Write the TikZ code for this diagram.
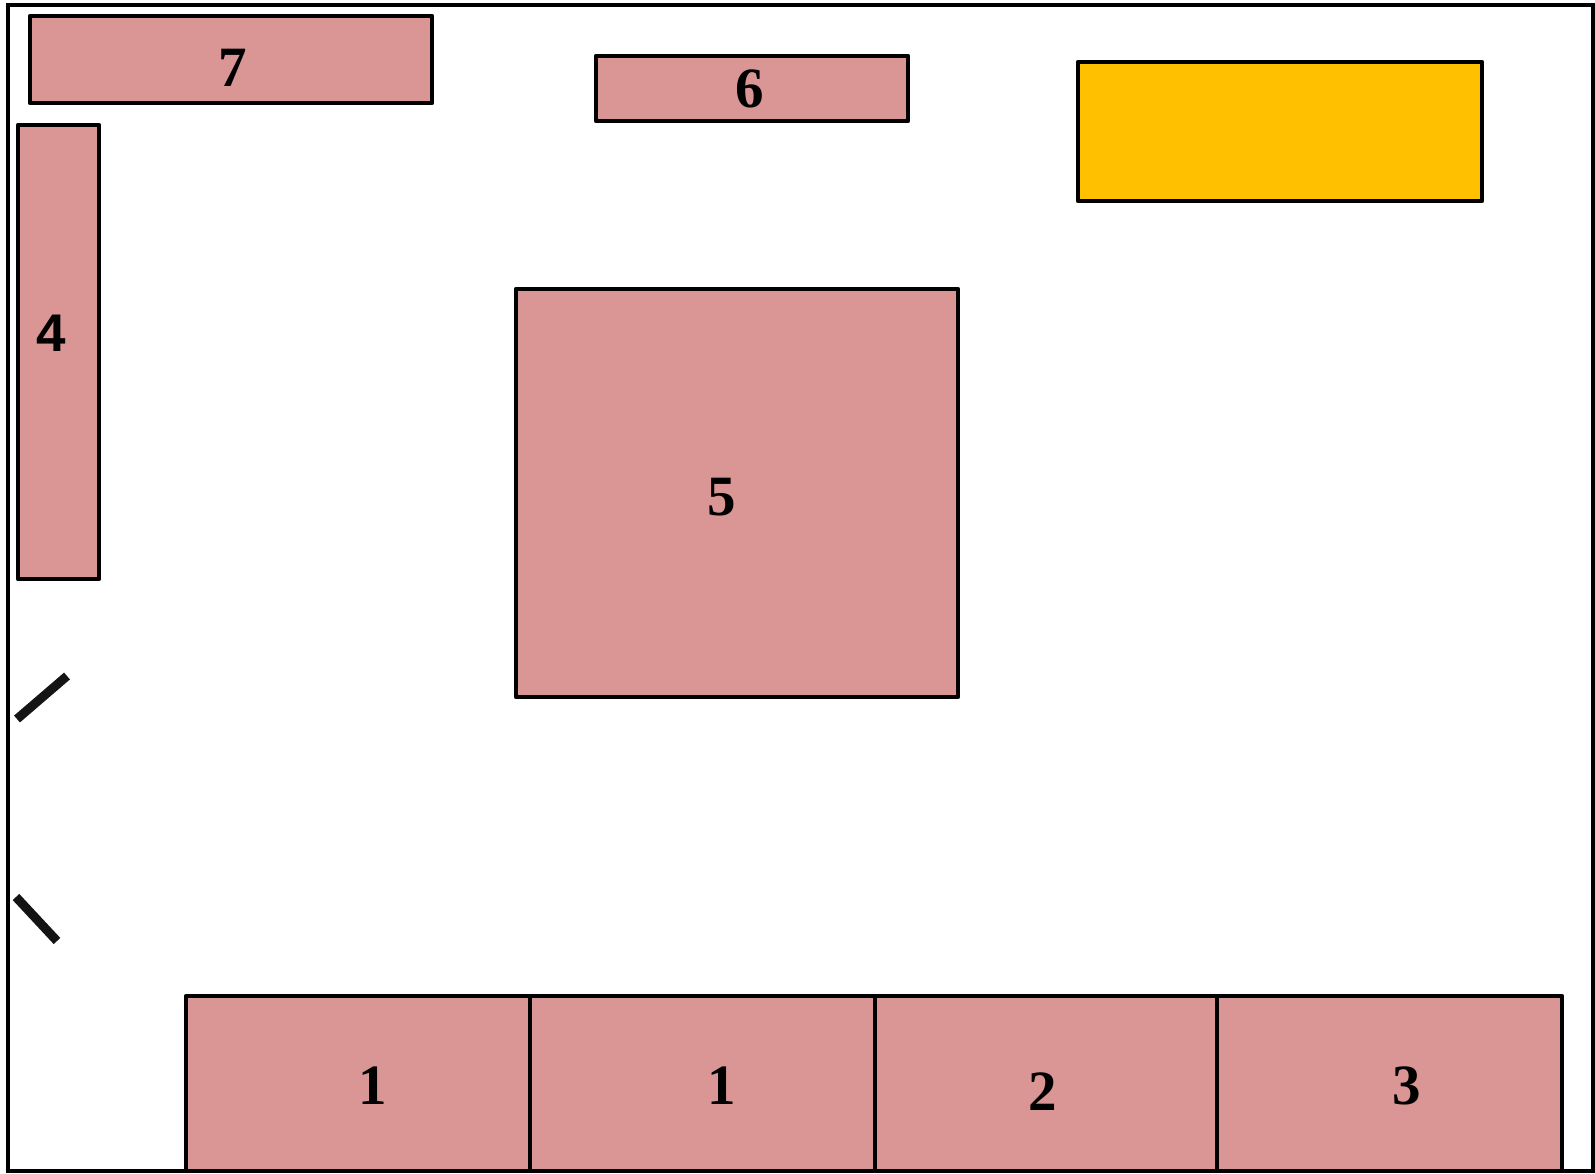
\documentclass[tikz,border=0pt]{standalone}
\usepackage{fontspec}
\setmainfont{Liberation Serif}
\newfontfamily\digitsans{Liberation Sans}
\definecolor{boxpink}{HTML}{D99694}
\definecolor{boxyellow}{HTML}{FFC000}
\tikzset{
  roombox/.style={draw=black, line width=4.8pt, fill=boxpink, line join=round},
  yellowbox/.style={draw=black, line width=4.8pt, fill=boxyellow, line join=round},
  numlabel/.style={anchor=base, inner sep=0pt, font=\fontsize{57}{60}\selectfont\bfseries},
  doorslash/.style={line width=9pt, color=black!92},
}
\begin{document}
\begin{tikzpicture}[x=1pt,y=-1pt]
\useasboundingbox (0,0) rectangle (1595,1173);
\fill[white] (0,0) rectangle (1595,1173);
% boxes
\draw[roombox] (30,16) rectangle (432,103);
\draw[roombox] (596,56) rectangle (908,121);
\draw[yellowbox] (1078,62) rectangle (1482,201);
\draw[roombox] (18,125) rectangle (99,579);
\draw[roombox] (516,289) rectangle (958,697);
\draw[roombox] (186,996) rectangle (530,1180);
\draw[roombox] (530,996) rectangle (875,1180);
\draw[roombox] (875,996) rectangle (1217,1180);
\draw[roombox] (1217,996) rectangle (1562,1180);
% outer border
\fill[white] (0,1173) rectangle (1595,1180);
\draw[line width=4.5pt] (8,5) rectangle (1593,1171);
% door marks
\coordinate (d1a) at (17,719);
\coordinate (d1b) at (67,676);
\coordinate (d2a) at (16,897);
\coordinate (d2b) at (57,941);
\draw[doorslash] (d1a) -- (d1b);
\draw[doorslash] (d2a) -- (d2b);
% labels
\node[numlabel] (l7) at (233,86) {7};
\node[numlabel] (l6) at (750,107) {6};
\node[numlabel, font=\fontsize{53}{56}\selectfont\bfseries\digitsans] (l4) at (51,351) {4};
\node[numlabel] (l5) at (722,515) {5};
\node[numlabel] (l1a) at (373,1104) {1};
\node[numlabel] (l1b) at (722,1104) {1};
\node[numlabel] (l2) at (1043,1110) {2};
\node[numlabel] (l3) at (1407,1104) {3};
\end{tikzpicture}
\end{document}
